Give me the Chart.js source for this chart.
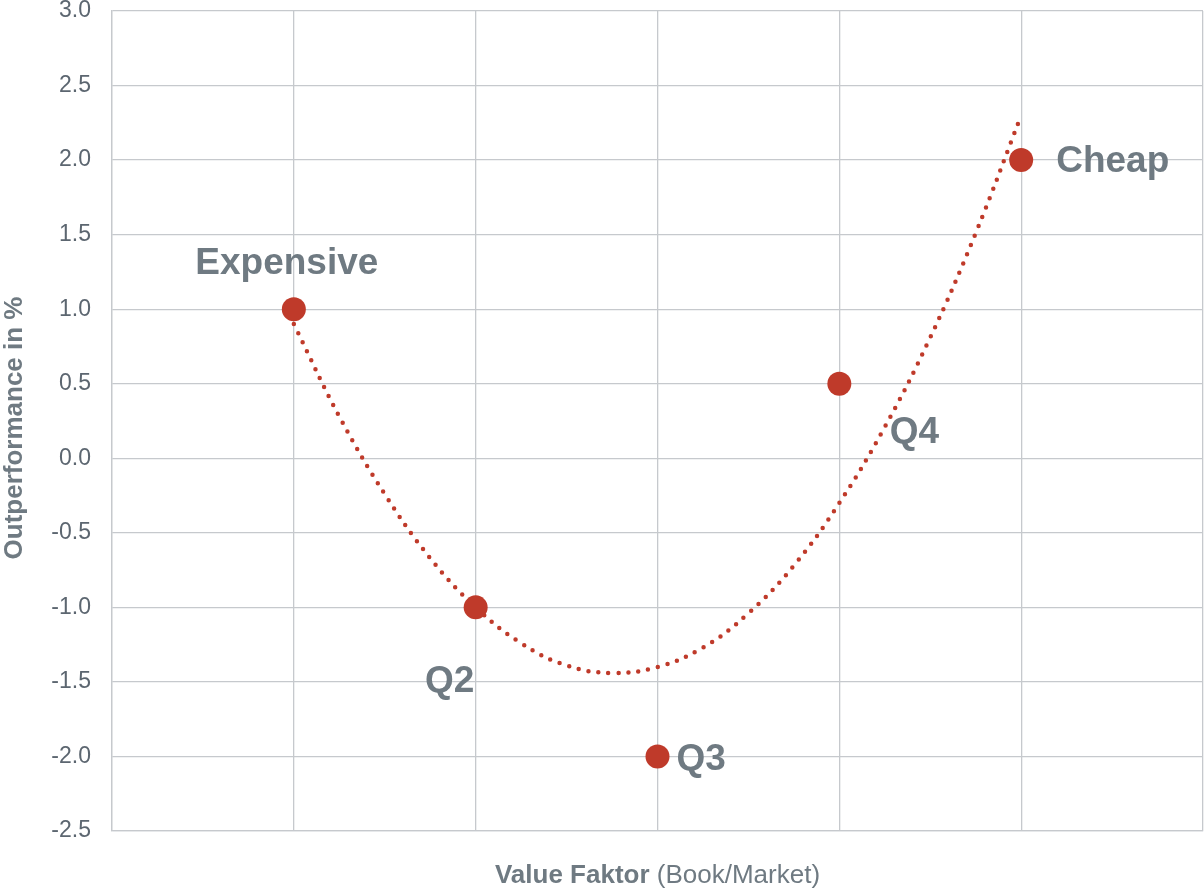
<!DOCTYPE html>
<html>
<head>
<meta charset="utf-8">
<script src="https://cdn.jsdelivr.net/npm/chart.js@4/dist/chart.umd.min.js"></script>
<style>
    html, body { margin: 0; padding: 0; background: #fff; }
    #wrap { width: 1204px; height: 889px; position: relative; }
</style>
</head>
<body>
<div id="wrap"><canvas id="valueChart"></canvas></div>
<script>
// quintiles on the value factor (book/market)
const quintileX = [1, 2, 3, 4, 5];
const outperformance = [1.0, -1.0, -2.0, 0.5, 2.0];
const pointLabels = ['Expensive', 'Q2', 'Q3', 'Q4', 'Cheap'];

// dotted trend curve
const trendX = [1, 1.25, 1.5, 1.75, 2, 2.25, 2.5, 2.75, 3, 3.25, 3.5, 3.75, 4, 4.25, 4.5, 4.75, 5];
const trendY = [0.9, 0.28, -0.24, -0.67, -1.0, -1.24, -1.39, -1.44, -1.4, -1.27, -1.04, -0.72, -0.3, 0.21, 0.81, 1.51, 2.3];

const yMin = -2.5, yMax = 3.0, yStep = 0.5;
const xMin = 0, xMax = 6;

const FONT = '"Liberation Sans", Arial, sans-serif';
const RED = '#bf3a2a';
const LABEL_GREY = '#6f7a82';
const TICK_GREY = '#5c6670';
const GRID = '#c6c9cd';

// where each point label sits relative to its point
const labelPlacement = [
    { dx: -7, dy: -45, align: 'center' },
    { dx: -26, dy: 74, align: 'center' },
    { dx: 19, dy: 3, align: 'left' },
    { dx: 75, dy: 49, align: 'center' },
    { dx: 35, dy: 2, align: 'left' }
];

const textPlugin = {
    id: 'textPlugin',
    afterDatasetsDraw(chart) {
        const ctx = chart.ctx;
        const meta = chart.getDatasetMeta(0);
        ctx.save();
        ctx.fillStyle = LABEL_GREY;
        ctx.font = 'bold 37px ' + FONT;
        ctx.textBaseline = 'middle';
        meta.data.forEach((pt, i) => {
            const p = labelPlacement[i];
            ctx.textAlign = p.align;
            ctx.fillText(pointLabels[i], pt.x + p.dx, pt.y + p.dy);
        });
        ctx.restore();
    },
    afterDraw(chart) {
        const ctx = chart.ctx;
        const area = chart.chartArea;
        ctx.save();
        ctx.fillStyle = LABEL_GREY;
        ctx.textBaseline = 'middle';

        // x axis title, bold part + normal part
        const boldPart = 'Value Faktor';
        const normalPart = ' (Book/Market)';
        ctx.font = 'bold 26px ' + FONT;
        const wBold = ctx.measureText(boldPart).width;
        ctx.font = '26px ' + FONT;
        const wNormal = ctx.measureText(normalPart).width;
        let x = (area.left + area.right) / 2 - (wBold + wNormal) / 2;
        ctx.textAlign = 'left';
        ctx.font = 'bold 26px ' + FONT;
        ctx.fillText(boldPart, x, 876);
        ctx.font = '26px ' + FONT;
        ctx.fillText(normalPart, x + wBold, 876);

        // y axis title
        ctx.translate(15, 428);
        ctx.rotate(-Math.PI / 2);
        ctx.textAlign = 'center';
        ctx.font = 'bold 26px ' + FONT;
        ctx.fillText('Outperformance in %', 0, 0);
        ctx.restore();
    }
};

const ctx = document.getElementById('valueChart').getContext('2d');

new Chart(ctx, {
    type: 'scatter',
    data: {
        datasets: [
            {
                label: 'Quintile',
                data: quintileX.map((x, i) => ({ x: x, y: outperformance[i] })),
                backgroundColor: RED,
                borderColor: RED,
                pointRadius: 12,
                pointHoverRadius: 12,
                borderWidth: 0,
                order: 1
            },
            {
                label: 'Trend',
                data: trendX.map((x, i) => ({ x: x, y: trendY[i] })),
                showLine: true,
                pointRadius: 0,
                borderColor: RED,
                borderWidth: 4.5,
                borderDash: [0, 10],
                borderCapStyle: 'round',
                tension: 0.4,
                order: 2
            }
        ]
    },
    options: {
        responsive: true,
        maintainAspectRatio: false,
        animation: false,
        layout: { autoPadding: false, padding: { top: 11, right: 1, bottom: 0, left: 0 } },
        plugins: {
            legend: { display: false },
            tooltip: { enabled: false }
        },
        scales: {
            x: {
                type: 'linear',
                min: xMin,
                max: xMax,
                ticks: { display: false, stepSize: 1 },
                grid: { color: GRID, lineWidth: 1.3, drawTicks: false },
                border: { color: GRID, width: 1.3 },
                afterFit: function (scale) {
                    scale.height = 58;
                    scale.paddingLeft = 0;
                    scale.paddingRight = 0;
                }
            },
            y: {
                min: yMin,
                max: yMax,
                ticks: {
                    stepSize: yStep,
                    padding: 21,
                    color: TICK_GREY,
                    font: { family: FONT, size: 23, lineHeight: 1 },
                    callback: function (value) { return value.toFixed(1); }
                },
                grid: { color: GRID, lineWidth: 1.3, drawTicks: false },
                border: { color: GRID, width: 1.3 },
                afterFit: function (scale) {
                    scale.width = 112;
                    scale.paddingTop = 0;
                    scale.paddingBottom = 0;
                }
            }
        }
    },
    plugins: [textPlugin]
});
</script>
</body>
</html>
